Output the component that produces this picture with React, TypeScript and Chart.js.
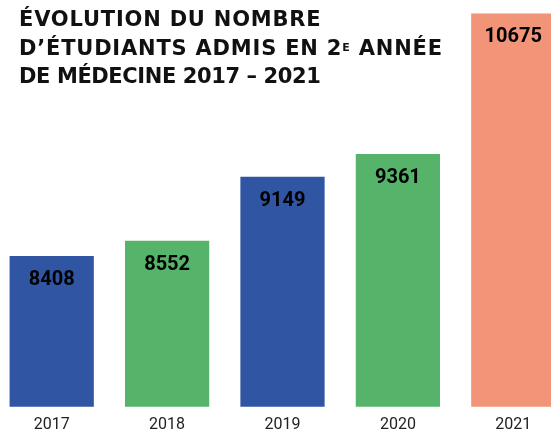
import { useEffect, useRef } from "react";
import { Chart, registerables } from "chart.js";

Chart.register(...registerables);

const years = ["2017", "2018", "2019", "2020", "2021"];
const admitted = [8408, 8552, 9149, 9361, 10675];
const barColors = ["#2f55a3", "#55b46a", "#2f55a3", "#55b46a", "#f29477"];
const yMin = 7000;
const yMax = 10800;

const valueLabels = {
  id: "valueLabels",
  afterDatasetsDraw(chart: any) {
    const ctx = chart.ctx;
    const meta = chart.getDatasetMeta(0);
    ctx.save();
    ctx.font = "bold 20px Roboto";
    ctx.fillStyle = "#000000";
    ctx.textAlign = "center";
    ctx.textBaseline = "middle";
    meta.data.forEach((bar: any, i: number) => {
      ctx.fillText(String(admitted[i]), bar.x, bar.y + 24);
    });
    ctx.restore();
  },
};

export default function App() {
  const canvasRef = useRef<HTMLCanvasElement>(null);

  useEffect(() => {
    if (!canvasRef.current) return;
    const chart = new Chart(canvasRef.current, {
      type: "bar",
      data: {
        labels: years,
        datasets: [
          {
            data: admitted,
            backgroundColor: barColors,
            borderWidth: 0,
            categoryPercentage: 1,
            barPercentage: 0.73,
          },
        ],
      },
      options: {
        animation: false,
        responsive: false,
        maintainAspectRatio: false,
        layout: { padding: 0 },
        plugins: {
          legend: { display: false },
          title: { display: false },
          tooltip: { enabled: false },
        },
        scales: {
          x: {
            grid: { display: false, drawTicks: false },
            border: { display: false },
            ticks: {
              color: "#222222",
              font: { family: "Roboto", size: 16 },
              padding: 9,
            },
          },
          y: {
            display: false,
            min: yMin,
            max: yMax,
          },
        },
      },
      plugins: [valueLabels],
    });
    return () => chart.destroy();
  }, []);

  return (
    <div
      style={{
        position: "fixed",
        left: 0,
        top: 0,
        width: 551,
        height: 432,
        overflow: "hidden",
        background: "#ffffff",
      }}
    >
      <canvas
        ref={canvasRef}
        width={577}
        height={444}
        style={{ position: "absolute", left: -6, top: 0, width: 577, height: 444 }}
      />
      <div
        style={{
          position: "absolute",
          left: 19,
          top: 5,
          fontFamily: "'DejaVu Sans', sans-serif",
          fontWeight: "bold",
          fontSize: 21,
          letterSpacing: "0.8px",
          lineHeight: "28.5px",
          color: "#111111",
          whiteSpace: "nowrap",
        }}
      >
        <div>ÉVOLUTION DU NOMBRE</div>
        <div>
          D’ÉTUDIANTS ADMIS EN 2
          <span style={{ fontSize: 11, verticalAlign: "top", position: "relative", top: 0 }}>E</span>
          {" "}ANNÉE
        </div>
        <div style={{ letterSpacing: "-0.4px" }}>DE MÉDECINE 2017 – 2021</div>
      </div>
    </div>
  );
}
